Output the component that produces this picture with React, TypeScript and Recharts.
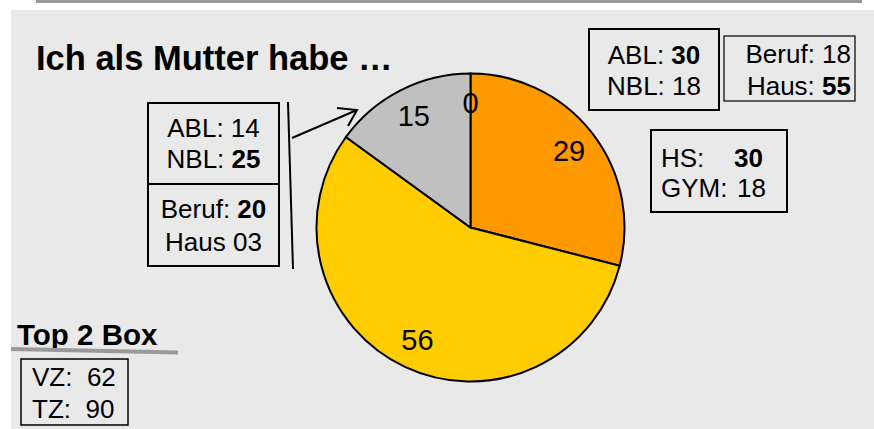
import React from 'react';
import { PieChart, Pie, Cell } from 'recharts';

const categories = ['Kategorie A', 'Kategorie B', 'Kategorie C', 'Kategorie D'];
const values = [0, 29, 56, 15];
const colors = ['#FF9900', '#FF9900', '#FFCC00', '#C0C0C0'];

const title = 'Ich als Mutter habe …';
const boxLeftTop = [
  ['ABL: ', '14', false],
  ['NBL: ', '25', true],
];
const boxLeftBottom = [
  ['Beruf: ', '20', true],
  ['Haus ', '03', false],
];
const boxRegion = [
  ['ABL: ', '30', true],
  ['NBL: ', '18', false],
];
const boxWork = [
  ['Beruf: ', '18', false],
  ['Haus: ', '55', true],
];
const boxSchool = [
  ['HS:', '30', true],
  ['GYM:', '18', false],
];
const top2Title = 'Top 2 Box';
const top2 = [
  ['VZ:  ', '62'],
  ['TZ:  ', '90'],
];

const data = categories.map((c, i) => ({ name: c, value: values[i] }));

const FONT = '"Liberation Sans", Arial, Helvetica, sans-serif';

const renderLabel = (props: any) => {
  const { cx, cy, midAngle, outerRadius, value } = props;
  const RAD = Math.PI / 180;
  const r = outerRadius * 0.81;
  const x = cx + r * Math.cos(-midAngle * RAD);
  const y = cy + r * Math.sin(-midAngle * RAD);
  return (
    <text x={x} y={y} textAnchor="middle" dominantBaseline="central" fontSize={29} fontFamily={FONT} fill="#000">
      {value}
    </text>
  );
};

const Line2 = ({ x, y, anchor, parts }: any) => (
  <text x={x} y={y} textAnchor={anchor} fontSize={26} fontFamily={FONT} fill="#000" style={{ whiteSpace: 'pre' }}>
    <tspan>{parts[0]}</tspan>
    <tspan fontWeight={parts[2] ? 'bold' : 'normal'}>{parts[1]}</tspan>
  </text>
);

export default function App() {
  return (
    <div style={{ position: 'absolute', left: 0, top: 0, width: 874, height: 429, background: '#fff', overflow: 'hidden' }}>
      <div style={{ position: 'absolute', left: 11, top: 10, width: 863, height: 419, background: '#E9E9E9' }} />
      <div style={{ position: 'absolute', left: 36, top: 0, width: 826, height: 3, background: '#999' }} />
      <div style={{ position: 'absolute', left: 0, top: 0 }}>
        <PieChart width={874} height={429} margin={{ top: 0, right: 0, bottom: 0, left: 0 }}>
          <Pie
            data={data}
            dataKey="value"
            nameKey="name"
            cx={470.5}
            cy={227.5}
            outerRadius={154}
            innerRadius={0}
            startAngle={90}
            endAngle={-270}
            stroke="#000"
            strokeWidth={2}
            label={renderLabel}
            labelLine={false}
            isAnimationActive={false}
          >
            {data.map((d, i) => (
              <Cell key={d.name} fill={colors[i]} stroke="#000" strokeWidth={d.value === 0 ? 3.5 : 2} />
            ))}
          </Pie>
        </PieChart>
      </div>
      <svg width={874} height={429} style={{ position: 'absolute', left: 0, top: 0, pointerEvents: 'none' }}>
        <text x={36} y={70} fontSize={34.5} fontWeight="bold" fontFamily={FONT} fill="#000">{title}</text>

        {/* left box */}
        <rect x={148} y={103} width={131} height={163} fill="none" stroke="#000" strokeWidth={2} />
        <line x1={148} y1={184} x2={279} y2={184} stroke="#000" strokeWidth={2} />
        <Line2 x={213.5} y={137} anchor="middle" parts={boxLeftTop[0]} />
        <Line2 x={213.5} y={168} anchor="middle" parts={boxLeftTop[1]} />
        <Line2 x={213.5} y={218} anchor="middle" parts={boxLeftBottom[0]} />
        <Line2 x={213.5} y={251} anchor="middle" parts={boxLeftBottom[1]} />
        <line x1={288} y1={102} x2={293} y2={269} stroke="#000" strokeWidth={2} />
        <line x1={292} y1={138} x2={357} y2={110} stroke="#000" strokeWidth={2} />
        <polyline points="337,108 357,110 348,126" fill="none" stroke="#000" strokeWidth={2} />

        {/* region box */}
        <rect x={589} y={29} width={130} height={81} fill="none" stroke="#000" strokeWidth={2} />
        <Line2 x={654} y={64} anchor="middle" parts={boxRegion[0]} />
        <Line2 x={654} y={95} anchor="middle" parts={boxRegion[1]} />

        {/* work box */}
        <rect x={724} y={36} width={131} height={65} fill="none" stroke="#111" strokeWidth={1.3} />
        <Line2 x={851} y={63} anchor="end" parts={boxWork[0]} />
        <Line2 x={851} y={95} anchor="end" parts={boxWork[1]} />

        {/* school box */}
        <rect x={651} y={130} width={136} height={82} fill="none" stroke="#000" strokeWidth={2} />
        {boxSchool.map((p, i) => (
          <g key={i}>
            <text x={661} y={167 + i * 30} fontSize={26} fontFamily={FONT} fill="#000">{p[0]}</text>
            <text x={p[2] ? 734 : 737} y={167 + i * 30} fontSize={26} fontFamily={FONT} fontWeight={p[2] ? 'bold' : 'normal'} fill="#000">{p[1]}</text>
          </g>
        ))}

        {/* top 2 box */}
        <text x={17} y={345} fontSize={29.5} fontWeight="bold" fontFamily={FONT} fill="#000">{top2Title}</text>
        <line x1={11} y1={349} x2={178} y2={352.5} stroke="#999" strokeWidth={4} />
        <rect x={21} y={359} width={107} height={66} fill="none" stroke="#000" strokeWidth={1.5} />
        {top2.map((p, i) => (
          <text key={i} x={32} y={386 + i * 32} fontSize={26} fontFamily={FONT} fill="#000" style={{ whiteSpace: 'pre' }}>
            {p[0] + p[1]}
          </text>
        ))}
      </svg>
    </div>
  );
}
